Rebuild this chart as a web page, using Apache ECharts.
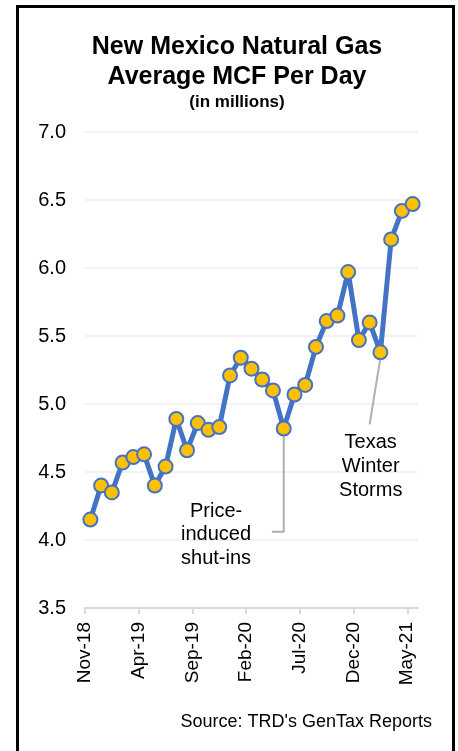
<!DOCTYPE html>
<html>
<head>
<meta charset="utf-8">
<script src="https://cdn.jsdelivr.net/npm/echarts@6/dist/echarts.min.js"></script>
<style>
  html, body { margin: 0; padding: 0; background: #fff; }
  #chart { width: 458px; height: 751px; }
  #frame {
    position: absolute; left: 16px; top: 5px; width: 439px; height: 780px;
    box-sizing: border-box; border: 3px solid #000; pointer-events: none;
  }
</style>
</head>
<body>
<div id="chart"></div>
<div id="frame"></div>
<script>
// monthly, Nov-18 .. May-21
var months = ['Nov-18','Dec-18','Jan-19','Feb-19','Mar-19','Apr-19','May-19','Jun-19','Jul-19','Aug-19',
  'Sep-19','Oct-19','Nov-19','Dec-19','Jan-20','Feb-20','Mar-20','Apr-20','May-20','Jun-20',
  'Jul-20','Aug-20','Sep-20','Oct-20','Nov-20','Dec-20','Jan-21','Feb-21','Mar-21','Apr-21','May-21']
var mcf = [4.15, 4.40, 4.35, 4.57, 4.61, 4.63, 4.40, 4.54, 4.89, 4.66,
  4.86, 4.81, 4.83, 5.21, 5.34, 5.26, 5.18, 5.10, 4.82, 5.07,
  5.14, 5.42, 5.61, 5.65, 5.97, 5.47, 5.60, 5.38, 6.21, 6.42, 6.47]
var xTicks = [0, 5, 10, 15, 20, 25, 30]
var yTicks = [3.5, 4.0, 4.5, 5.0, 5.5, 6.0, 6.5, 7.0]

// callouts: leader line points in axis units
var priceLine = [[18.5, 4.82], [18.5, 4.06], [17.4, 4.06]]
var texasLine = [[27.5, 5.34], [26.5, 4.85]]

// points sit in the middle of each month slot
var points = mcf.map(function (v, i) { return [i + 0.5, v] })

var chart = echarts.init(document.getElementById('chart'))
var font = 'Arial, "Liberation Sans", sans-serif'

chart.setOption({
  animation: false,
  title: {
    text: 'New Mexico Natural Gas\nAverage MCF Per Day',
    subtext: '(in millions)',
    left: 232,
    textAlign: 'center',
    top: 27,
    itemGap: 2,
    textStyle: { fontFamily: font, fontSize: 25, fontWeight: 'bold', color: '#000', lineHeight: 30 },
    subtextStyle: { fontFamily: font, fontSize: 17, fontWeight: 'bold', color: '#000' }
  },
  grid: { left: 85, right: 40, top: 132, bottom: 143 },
  xAxis: {
    type: 'value',
    min: 0,
    max: 31,
    interval: 5,
    splitLine: { show: false },
    axisLine: { show: true, lineStyle: { color: '#d9d9d9', width: 2 } },
    axisTick: { show: true, customValues: xTicks, length: 6, lineStyle: { color: '#d9d9d9', width: 2 } },
    axisLabel: {
      customValues: xTicks,
      rotate: 90,
      margin: 14,
      fontFamily: font,
      fontSize: 19,
      color: '#000',
      formatter: function (v) { return months[Math.round(v)] || '' }
    }
  },
  yAxis: {
    type: 'value',
    min: 3.5,
    max: 7.0,
    interval: 0.5,
    axisLine: { show: false },
    axisTick: { show: false },
    splitLine: { lineStyle: { color: '#eeeeee', width: 1.5 } },
    axisLabel: {
      margin: 19,
      fontFamily: font,
      fontSize: 20,
      color: '#000',
      formatter: function (v) { return v.toFixed(1) }
    }
  },
  series: [
    {
      type: 'line',
      data: priceLine,
      symbol: 'none',
      lineStyle: { color: '#b0b0b0', width: 2 },
      z: 1
    },
    {
      type: 'line',
      data: texasLine,
      symbol: 'none',
      lineStyle: { color: '#b0b0b0', width: 2 },
      z: 1
    },
    {
      type: 'line',
      data: points,
      symbol: 'circle',
      symbolSize: 14,
      lineStyle: { color: '#4472c4', width: 5 },
      itemStyle: { color: '#ffc000', borderColor: '#4472c4', borderWidth: 2 },
      z: 3
    }
  ]
})

// annotation text, placed from axis units
var p1 = chart.convertToPixel({ gridIndex: 0 }, [12.2, 4.04])
var p2 = chart.convertToPixel({ gridIndex: 0 }, [26.6, 4.54])

chart.setOption({
  graphic: [
    {
      type: 'text', x: p1[0], y: p1[1],
      style: { text: 'Price-\ninduced\nshut-ins', fontFamily: font, fontSize: 20, lineHeight: 23.5,
        fill: '#000', align: 'center', verticalAlign: 'middle' }
    },
    {
      type: 'text', x: p2[0], y: p2[1],
      style: { text: 'Texas\nWinter\nStorms', fontFamily: font, fontSize: 20, lineHeight: 24,
        fill: '#000', align: 'center', verticalAlign: 'middle' }
    },
    {
      type: 'text', x: 432, y: 722,
      style: { text: "Source: TRD's GenTax Reports", fontFamily: font, fontSize: 18,
        fill: '#000', align: 'right', verticalAlign: 'middle' }
    }
  ]
})
</script>
</body>
</html>
